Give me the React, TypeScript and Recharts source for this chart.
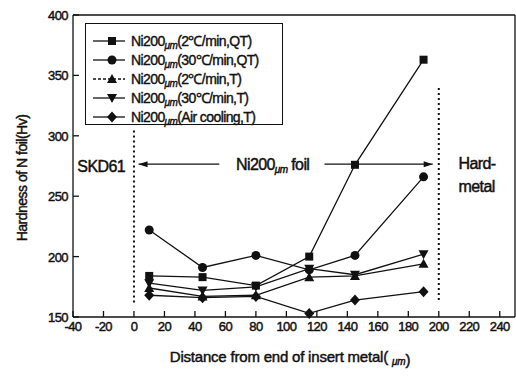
import React from "react";
import { LineChart, Line, XAxis, YAxis, ReferenceLine, ReferenceDot, Legend, Label } from "recharts";

// distance from end of insert metal (um)
const distance = [10, 45, 80, 115, 145, 190];

// hardness (Hv) per condition
const slowQT = [184, 183, 176, 200, 276, 363];
const fastQT = [222, 191, 201, 189, 201, 266];
const slowT = [174, 167, 168, 183, 184, 194];
const fastT = [178, 172, 175, 190, 185, 202];
const airT = [168, 166, 167, 153, 164, 171];

const xTicks = [-40, -20, 0, 20, 40, 60, 80, 100, 120, 140, 160, 180, 200, 220, 240];
const yTicks = [150, 200, 250, 300, 350, 400];

const seriesNames = ["(2℃/min,QT)", "(30℃/min,QT)", "(2℃/min,T)", "(30℃/min,T)", "(Air cooling,T)"];
const seriesKeys = ["slowQT", "fastQT", "slowT", "fastT", "airT"];
const seriesShapes = ["square", "circle", "up", "down", "diamond"];

const rows = distance.map((x, i) => ({
  x,
  slowQT: slowQT[i],
  fastQT: fastQT[i],
  slowT: slowT[i],
  fastT: fastT[i],
  airT: airT[i],
}));

const FONT = "'Liberation Sans', Arial, sans-serif";
const INK = "#111";
// scanned print looks a bit heavier than plain Arial
const thick = { stroke: INK, strokeWidth: 0.45 };

const Marker = ({ shape, cx, cy }: { shape: string; cx: number; cy: number }) => {
  if (shape === "square") return <rect x={cx - 4} y={cy - 4} width={8} height={8} fill={INK} />;
  if (shape === "circle") return <circle cx={cx} cy={cy} r={4.5} fill={INK} />;
  if (shape === "up") return <path d={`M${cx},${cy - 5} L${cx + 5},${cy + 4} L${cx - 5},${cy + 4} Z`} fill={INK} />;
  if (shape === "down") return <path d={`M${cx},${cy + 5} L${cx + 5},${cy - 4} L${cx - 5},${cy - 4} Z`} fill={INK} />;
  return <path d={`M${cx},${cy - 5.5} L${cx + 5},${cy} L${cx},${cy + 5.5} L${cx - 5},${cy} Z`} fill={INK} />;
};

const makeDot = (shape: string) => (props: any) => (
  <Marker key={`${shape}-${props.index}`} shape={shape} cx={props.cx} cy={props.cy} />
);

const XTick = (props: any) => {
  const { x, y, payload } = props;
  return (
    <g>
      <line x1={x} y1={y} x2={x} y2={y - 6} stroke={INK} strokeWidth={1.3} />
      <text x={x} y={y + 14} textAnchor="middle" fontSize={13} fontFamily={FONT} fill={INK} letterSpacing={-0.6} {...thick}>
        {payload.value}
      </text>
    </g>
  );
};

const YTick = (props: any) => {
  const { x, y, payload } = props;
  return (
    <g>
      <line x1={x} y1={y} x2={x + 6} y2={y} stroke={INK} strokeWidth={1.3} />
      <text x={x - 5} y={y + 5} textAnchor="end" fontSize={13} fontFamily={FONT} fill={INK} letterSpacing={-0.6} {...thick}>
        {payload.value}
      </text>
    </g>
  );
};

const Um = () => (
  <tspan fontSize={10} fontStyle="italic" dy={3}>
    μm
  </tspan>
);

const textAt = (value: React.ReactNode, anchor: "start" | "middle" = "middle", size = 16) => (props: any) => {
  const vb = props.viewBox;
  return (
    <text
      x={vb.x}
      y={vb.y + size * 0.36}
      textAnchor={anchor}
      fontSize={size}
      fontFamily={FONT}
      fill={INK}
      letterSpacing={-0.6}
      {...thick}
    >
      {value}
    </text>
  );
};

const Arrow = (dir: "left" | "right") => (p: any) => {
  const a = Math.min(p.x1, p.x2);
  const b = Math.max(p.x1, p.x2);
  const y = p.y1;
  const head = dir === "left" ? `M${a},${y} l9,-3 l0,6 Z` : `M${b},${y} l-9,-3 l0,6 Z`;
  return (
    <g>
      <line x1={a} y1={y} x2={b} y2={y} stroke={INK} strokeWidth={1.2} />
      <path d={head} fill={INK} />
    </g>
  );
};

const LegendBox = () => (
  <div
    style={{
      width: 198,
      height: 102,
      border: "1px solid #111",
      boxSizing: "border-box",
      background: "#fff",
      padding: "7px 0 0 6px",
      fontFamily: FONT,
      fontSize: 14,
      color: INK,
      letterSpacing: -0.6,
      WebkitTextStroke: "0.4px #111",
    }}
  >
    {seriesNames.map((name, i) => (
      <div key={name} style={{ display: "flex", alignItems: "center", height: 19, whiteSpace: "nowrap" }}>
        <svg width={36} height={12} style={{ marginRight: 3 }}>
          <line x1={1} y1={6} x2={33} y2={6} stroke={INK} strokeWidth={1.3} strokeDasharray={i === 2 ? "3 2" : undefined} />
          <Marker shape={seriesShapes[i]} cx={20} cy={6} />
        </svg>
        <span>
          Ni200
          <span style={{ fontSize: 10, fontStyle: "italic", position: "relative", top: 3 }}>μm</span>
          {name}
        </span>
      </div>
    ))}
  </div>
);

export default function App() {
  return (
    <div style={{ position: "absolute", left: 0, top: 0, width: 516, height: 378, background: "#fff", fontFamily: FONT }}>
      <LineChart width={516} height={378} data={rows} margin={{ top: 15, right: 1, bottom: 0, left: 0 }}>
        <XAxis
          dataKey="x"
          type="number"
          domain={[-40, 250]}
          ticks={xTicks}
          interval={0}
          height={61}
          tickSize={0}
          tickMargin={0}
          tickLine={false}
          axisLine={{ stroke: INK, strokeWidth: 1.3 }}
          tick={<XTick />}
        >
          <Label
            content={(p: any) => (
              <text
                x={p.viewBox.x + p.viewBox.width / 2 - 4}
                y={p.viewBox.y + 45}
                textAnchor="middle"
                fontSize={15}
                fontFamily={FONT}
                fill={INK}
                letterSpacing={-0.2}
                {...thick}
              >
                Distance from end of insert metal( <Um />)
              </text>
            )}
          />
        </XAxis>
        <YAxis
          type="number"
          domain={[150, 400]}
          ticks={yTicks}
          interval={0}
          width={73}
          tickSize={0}
          tickMargin={0}
          tickLine={false}
          axisLine={{ stroke: INK, strokeWidth: 1.3 }}
          tick={<YTick />}
        >
          <Label
            content={(p: any) => {
              const cx = 22;
              const cy = p.viewBox.y + p.viewBox.height / 2 + 12;
              return (
                <text
                  x={cx}
                  y={cy}
                  transform={`rotate(-90 ${cx} ${cy})`}
                  textAnchor="middle"
                  dominantBaseline="central"
                  fontSize={14}
                  fontFamily={FONT}
                  fill={INK}
                  letterSpacing={-0.5}
                  {...thick}
                >
                  Hardness of N foil(Hv)
                </text>
              );
            }}
          />
        </YAxis>
        <ReferenceLine y={400} stroke={INK} strokeWidth={1.3} />
        <ReferenceLine x={250} stroke={INK} strokeWidth={1.3} />
        <ReferenceLine segment={[{ x: 0, y: 162 }, { x: 0, y: 305 }]} stroke={INK} strokeWidth={2} strokeDasharray="2 3" />
        <ReferenceLine segment={[{ x: 200, y: 164 }, { x: 200, y: 340 }]} stroke={INK} strokeWidth={2} strokeDasharray="2 3" />
        <ReferenceLine segment={[{ x: 3, y: 276.5 }, { x: 56, y: 276.5 }]} shape={Arrow("left")} />
        <ReferenceLine segment={[{ x: 125, y: 276.5 }, { x: 196, y: 276.5 }]} shape={Arrow("right")} />
        <ReferenceDot x={-21.5} y={274.5} r={0} fill="none" stroke="none" label={{ content: textAt("SKD61") }} />
        <ReferenceDot
          x={91}
          y={276.5}
          r={0}
          fill="none"
          stroke="none"
          label={{ content: textAt(<>Ni200<Um /><tspan dy={-3}> foil</tspan></>) }}
        />
        <ReferenceDot x={213} y={277.5} r={0} fill="none" stroke="none" label={{ content: textAt("Hard-", "start") }} />
        <ReferenceDot x={213} y={258} r={0} fill="none" stroke="none" label={{ content: textAt("metal", "start") }} />
        {seriesKeys.map((k, i) => (
          <Line
            key={k}
            dataKey={k}
            name={seriesNames[i]}
            stroke={INK}
            strokeWidth={1.3}
            dot={makeDot(seriesShapes[i])}
            activeDot={false}
            isAnimationActive={false}
          />
        ))}
        <Legend
          layout="vertical"
          align="center"
          verticalAlign="middle"
          wrapperStyle={{ top: 23, left: 85, width: 198 }}
          content={<LegendBox />}
        />
      </LineChart>
    </div>
  );
}
